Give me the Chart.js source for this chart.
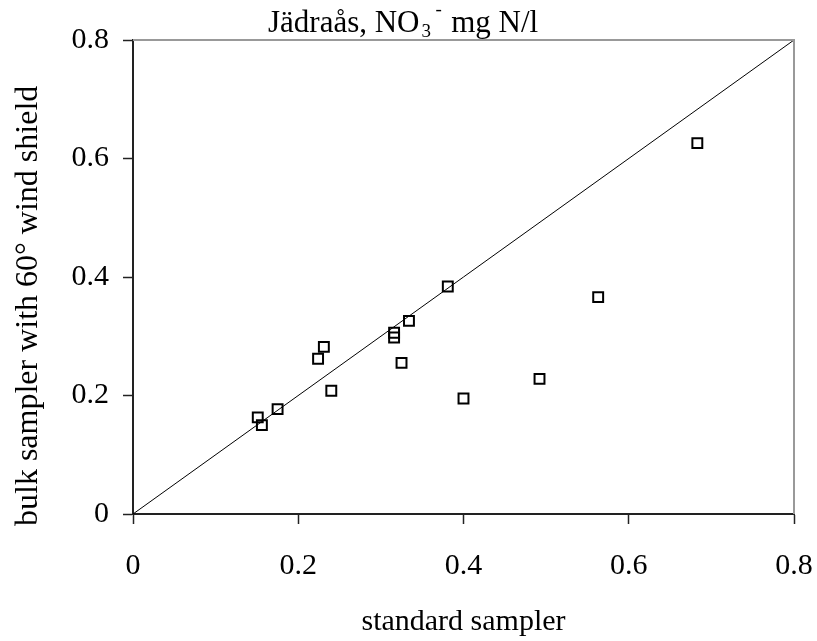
<!DOCTYPE html>
<html>
<head>
<meta charset="utf-8">
<title>Jädraås NO3</title>
<script src="https://cdn.jsdelivr.net/npm/chart.js@4.4.1/dist/chart.umd.min.js"></script>
<style>
  html, body { margin: 0; padding: 0; background: #fff; }
  #wrap { width: 817px; height: 641px; }
</style>
</head>
<body>
<div id="wrap"><canvas id="chart" width="817" height="641"></canvas></div>
<script>
'use strict'

// standard sampler (x) vs bulk sampler with 60° wind shield (y), mg N/l
const standardSampler = [0.151, 0.156, 0.175, 0.224, 0.231, 0.240, 0.316, 0.316, 0.334, 0.325, 0.381, 0.400, 0.492, 0.563, 0.683];
const bulkSampler     = [0.163, 0.150, 0.177, 0.262, 0.282, 0.208, 0.306, 0.298, 0.326, 0.255, 0.384, 0.195, 0.228, 0.366, 0.626];
// 1:1 reference line
const lineX = [0, 0.8];
const lineY = [0, 0.8];
const tickLabels = ['0', '0.2', '0.4', '0.6', '0.8'];

const serif = 'Liberation Serif, Times New Roman, serif';

const points = standardSampler.map((x, i) => ({x: x, y: bulkSampler[i]}));
const diagonal = lineX.map((x, i) => ({x: x, y: lineY[i]}));

// grey top/right frame, the title with sub/superscript and the y axis title
const framePlugin = {
    id: 'frame',
    afterDraw(chart){
        const ctx = chart.ctx;
        const a = chart.chartArea;
        ctx.save();
        ctx.strokeStyle = '#999';
        ctx.lineWidth = 2;
        ctx.beginPath();
        ctx.moveTo(a.left, a.top);
        ctx.lineTo(a.right, a.top);
        ctx.lineTo(a.right, a.bottom);
        ctx.stroke();

        ctx.fillStyle = '#000';
        ctx.textBaseline = 'alphabetic';
        ctx.textAlign = 'left';
        let x = 268;
        ctx.font = '31px ' + serif;
        ctx.fillText('Jädraås, NO', x, 32);
        x += ctx.measureText('Jädraås, NO').width;
        ctx.font = '19px ' + serif;
        ctx.fillText('3', x + 2, 37);
        ctx.fillText('-', x + 16, 15);
        ctx.font = '31px ' + serif;
        ctx.fillText(' mg N/l', x + 24, 32);

        // y axis title
        ctx.translate(37, 526);
        ctx.rotate(-Math.PI / 2);
        ctx.font = '32px ' + serif;
        ctx.fillText('bulk sampler with 60° wind shield', 0, 0);
        ctx.restore();
    }
};

const axisCommon = {
    min: 0,
    max: 0.8,
    border: {display: true, color: '#222', width: 2},
    grid: {drawOnChartArea: false, drawTicks: true, tickLength: 10, tickColor: '#222', tickWidth: 1.5}
};

const config = {
    data: {
        datasets: [{
            type: 'line',
            data: diagonal,
            borderColor: '#000',
            borderWidth: 1,
            pointRadius: 0
        },
        {
            type: 'scatter',
            data: points,
            pointStyle: 'rect',
            pointRadius: 7,
            borderColor: '#000',
            borderWidth: 2,
            backgroundColor: 'rgba(0,0,0,0)'
        }]
    },
    options: {
        responsive: false,
        animation: false,
        layout: {padding: {top: 40, right: 23, left: 0, bottom: 0}},
        plugins: {
            legend: {display: false},
            tooltip: {enabled: false}
        },
        scales: {
            x: Object.assign({}, axisCommon, {
                type: 'linear',
                position: 'bottom',
                afterFit(scale){
                    scale.height = 127;
                    scale.paddingLeft = 0;
                    scale.paddingRight = 0;
                },
                ticks: {
                    stepSize: 0.2,
                    padding: 24,
                    color: '#000',
                    font: {family: serif, size: 30},
                    callback: (v, i) => tickLabels[i]
                },
                title: {
                    display: true,
                    text: 'standard sampler',
                    color: '#000',
                    font: {family: serif, size: 30},
                    padding: {top: 0, bottom: 1}
                }
            }),
            y: Object.assign({}, axisCommon, {
                type: 'linear',
                position: 'left',
                afterFit(scale){
                    scale.width = 133;
                    scale.paddingTop = 0;
                    scale.paddingBottom = 0;
                },
                ticks: {
                    stepSize: 0.2,
                    padding: 14,
                    color: '#000',
                    font: {family: serif, size: 30},
                    callback: (v, i) => tickLabels[i]
                }
            })
        }
    },
    plugins: [framePlugin]
};

const chart = new Chart(document.getElementById('chart'), config);
</script>
</body>
</html>
